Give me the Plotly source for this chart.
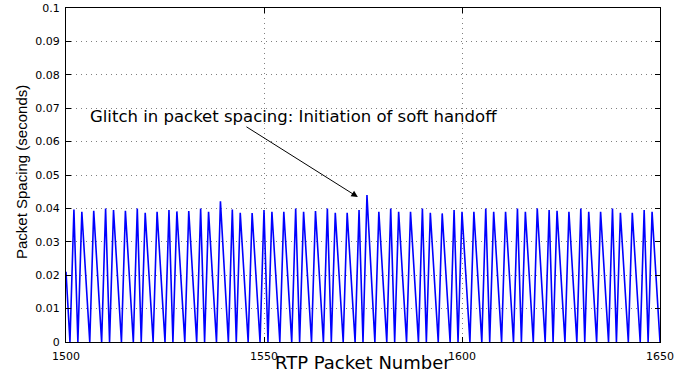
import plotly.graph_objects as go

# Vertices of the packet-spacing trace (RTP packet number, spacing in seconds)
packet_number = [
    1500, 1501, 1502, 1503, 1504, 1506, 1507, 1509, 1510, 1511, 1512, 1514, 1515, 1517,
    1518, 1519, 1520, 1522, 1523, 1525, 1526, 1527, 1528, 1530, 1531, 1533, 1534, 1535,
    1536, 1538, 1539, 1541, 1542, 1543, 1544, 1546, 1547, 1549, 1550, 1551, 1552, 1554,
    1555, 1557, 1558, 1559, 1560, 1562, 1563, 1565, 1566, 1567, 1568, 1570, 1571, 1573,
    1574, 1575, 1576, 1578, 1579, 1581, 1582, 1583, 1584, 1586, 1587, 1589, 1590, 1591,
    1592, 1594, 1595, 1597, 1598, 1599, 1600, 1602, 1603, 1605, 1606, 1607, 1608, 1610,
    1611, 1613, 1614, 1615, 1616, 1618, 1619, 1621, 1622, 1623, 1624, 1626, 1627, 1629,
    1630, 1631, 1632, 1634, 1635, 1637, 1638, 1639, 1640, 1642, 1643, 1645, 1646, 1647,
    1648, 1650,
]
spacing = [
    0.021, 0, 0.0397, 0, 0.0390, 0, 0.0393, 0, 0.0400, 0, 0.0395, 0, 0.0393, 0,
    0.0400, 0, 0.0387, 0, 0.0390, 0, 0.0395, 0, 0.0391, 0, 0.0392, 0, 0.0400, 0,
    0.0390, 0, 0.0421, 0, 0.0397, 0, 0.0387, 0, 0.0386, 0, 0.0395, 0, 0.0390, 0,
    0.0390, 0, 0.0400, 0, 0.0390, 0, 0.0392, 0, 0.0400, 0, 0.0387, 0, 0.0387, 0,
    0.0395, 0, 0.0440, 0, 0.0390, 0, 0.0400, 0, 0.0390, 0, 0.0390, 0, 0.0400, 0,
    0.0387, 0, 0.0385, 0, 0.0395, 0, 0.0390, 0, 0.0390, 0, 0.0400, 0, 0.0390, 0,
    0.0390, 0, 0.0400, 0, 0.0390, 0, 0.0400, 0, 0.0395, 0, 0.0393, 0, 0.0390, 0,
    0.0400, 0, 0.0390, 0, 0.0390, 0, 0.0400, 0, 0.0387, 0, 0.0387, 0, 0.0395, 0,
    0.0390, 0,
]

x_ticks = [1500, 1550, 1600, 1650]
y_ticks = [0, 0.01, 0.02, 0.03, 0.04, 0.05, 0.06, 0.07, 0.08, 0.09, 0.1]
y_tick_labels = ["0", "0.01", "0.02", "0.03", "0.04", "0.05", "0.06", "0.07", "0.08", "0.09", "0.1"]

x_title = "RTP Packet Number"
y_title = "Packet Spacing (seconds)"
note_text = "Glitch in packet spacing: Initiation of soft handoff"

wide_font = "DejaVu Sans, Verdana, sans-serif"
narrow_font = "Liberation Sans, Arial, Helvetica, sans-serif"

fig = go.Figure()
fig.add_trace(go.Scatter(
    x=packet_number, y=spacing, mode="lines",
    line=dict(color="#0000ff", width=1.6),
    showlegend=False, hoverinfo="skip",
))

axis_common = dict(
    showline=True, linecolor="black", linewidth=1, mirror="ticks",
    ticks="inside", ticklen=5, tickcolor="black", tickwidth=1,
    showgrid=True, gridcolor="#808080", griddash="1px,4px", gridwidth=1,
    zeroline=False, automargin=False,
    tickfont=dict(family=wide_font, size=11, color="black"),
)

fig.update_layout(
    width=684, height=372,
    margin=dict(l=66, r=24, t=8, b=30),
    paper_bgcolor="white", plot_bgcolor="white",
    font=dict(family=wide_font, color="black"),
    xaxis=dict(
        range=[1500, 1650], tickvals=x_ticks, ticktext=[str(v) for v in x_ticks],
        ticklabelstandoff=4,
        **axis_common,
    ),
    yaxis=dict(
        range=[0, 0.1], tickvals=y_ticks, ticktext=y_tick_labels,
        ticklabelstandoff=3,
        **axis_common,
    ),
    annotations=[
        dict(
            x=1573.7, y=0.0434, xref="x", yref="y",
            ax=1545.2, ay=0.0647, axref="x", ayref="y",
            text="", showarrow=True, arrowhead=2, arrowsize=1.3,
            arrowwidth=1, arrowcolor="black",
        ),
        dict(
            x=1505.6, y=0.0674, xref="x", yref="y",
            text=note_text, showarrow=False, xanchor="left", yanchor="middle",
            font=dict(family=wide_font, size=16.5, color="black"),
        ),
        dict(
            x=0.5, y=-0.06, xref="paper", yref="paper",
            text=x_title, showarrow=False, xanchor="center", yanchor="middle",
            font=dict(family=wide_font, size=18, color="black"),
        ),
        dict(
            x=-0.074, y=0.509, xref="paper", yref="paper",
            text=y_title, showarrow=False, xanchor="center", yanchor="middle",
            textangle=-90,
            font=dict(family=narrow_font, size=15, color="black"),
        ),
    ],
)

fig.write_html(
    "out.html",
    config={"displayModeBar": False},
    post_script="document.body.style.margin='0px';",
)
